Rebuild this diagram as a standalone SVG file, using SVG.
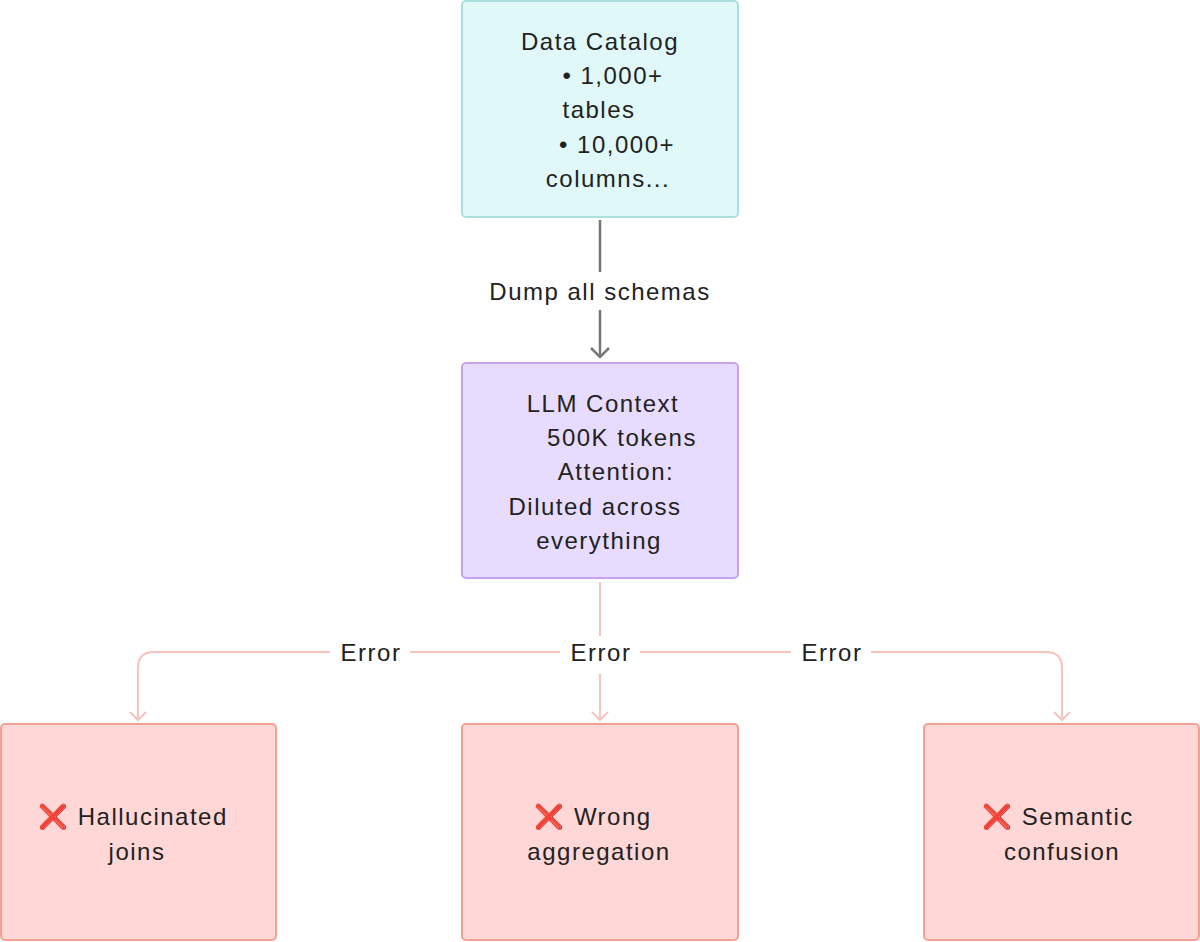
<svg xmlns="http://www.w3.org/2000/svg" width="1200" height="942" viewBox="0 0 1200 942">
<style>
text{font-family:"Liberation Sans","DejaVu Sans","Noto Color Emoji",sans-serif;font-size:24px;letter-spacing:1.5px;fill:#222;text-anchor:middle;dominant-baseline:central}
.cat{fill:#e0f8f8;stroke:#a9e0dc;stroke-width:2}
.llm{fill:#e8dcfe;stroke:#c9a3ef;stroke-width:2}
.err{fill:#ffd7d6;stroke:#f2a193;stroke-width:2}
.gl{fill:none;stroke:#777;stroke-width:2.5}
.pl{fill:none;stroke:#f6c3bd;stroke-width:2}
.bg{fill:#fff}
</style>
<g id="connectors">
<path class="gl" d="M600 220 V357"/>
<path class="gl" d="M591 348 L600 357 L609 348"/>
<rect class="bg" x="476" y="272" width="248" height="38"/>
<text x="600" y="291">Dump all schemas</text>
<path class="pl" d="M600 582 V652 H154 Q138 652 138 668 V720"/>
<path class="pl" d="M600 652 V720"/>
<path class="pl" d="M600 652 H1046 Q1062 652 1062 668 V720"/>
<path class="pl" d="M130 712 L138 720 L146 712"/>
<path class="pl" d="M592 712 L600 720 L608 712"/>
<path class="pl" d="M1054 712 L1062 720 L1070 712"/>
<rect class="bg" x="330" y="636" width="80" height="32"/>
<text x="371" y="652">Error</text>
<rect class="bg" x="560" y="636" width="80" height="32"/>
<rect class="bg" x="596" y="668" width="8" height="6"/>
<text x="601" y="652">Error</text>
<rect class="bg" x="791" y="636" width="80" height="32"/>
<text x="832" y="652">Error</text>
</g>
<g id="data-catalog">
<rect class="cat" x="462" y="1" width="276" height="216" rx="4"/>
<text x="600" y="41">Data Catalog</text>
<text x="613" y="75">• 1,000+</text>
<text x="599" y="109">tables</text>
<text x="617" y="144">• 10,000+</text>
<text x="608" y="178">columns...</text>
</g>
<g id="llm-context">
<rect class="llm" x="462" y="363" width="276" height="215" rx="4"/>
<text x="603" y="403">LLM Context</text>
<text x="622" y="437">500K tokens</text>
<text x="616" y="471">Attention:</text>
<text x="595" y="506">Diluted across</text>
<text x="599" y="540">everything</text>
</g>
<g id="hallucinated-joins">
<rect class="err" x="1" y="724" width="275" height="216" rx="4"/>
<text x="133" y="816">❌ Hallucinated</text>
<text x="137" y="851">joins</text>
</g>
<g id="wrong-aggregation">
<rect class="err" x="462" y="724" width="276" height="216" rx="4"/>
<text x="593" y="816">❌ Wrong</text>
<text x="599" y="851">aggregation</text>
</g>
<g id="semantic-confusion">
<rect class="err" x="924" y="724" width="275" height="216" rx="4"/>
<text x="1058" y="816">❌ Semantic</text>
<text x="1062" y="851">confusion</text>
</g>
</svg>
